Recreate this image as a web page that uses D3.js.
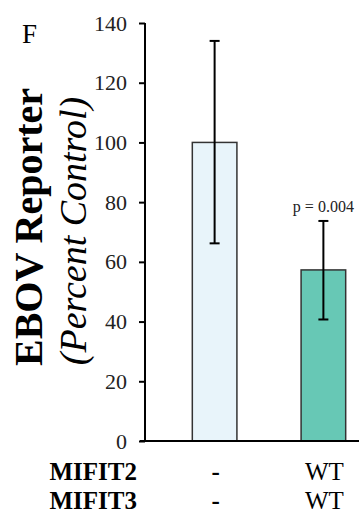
<!DOCTYPE html>
<html>
<head>
<meta charset="UTF-8">
<script src="https://d3js.org/d3.v7.min.js"></script>
<style>
  body { margin: 0; padding: 0; background: #fff; }
  svg { display: block; font-family: 'Liberation Serif', 'Times New Roman', serif; }
</style>
</head>
<body>
<svg width="359" height="517"></svg>
<script>
  // data
  const groups = ["ctrl", "wt"];
  const means = [100, 57.3];
  const errLow = [66.2, 40.7];
  const errHigh = [134, 73.7];
  const fills = ["#e8f4fa", "#67c8b5"];
  const mifit2 = ["-", "WT"];
  const mifit3 = ["-", "WT"];
  const yTicks = [0, 20, 40, 60, 80, 100, 120, 140];

  const svg = d3.select("svg");

  const x = d3.scaleBand()
    .domain(groups)
    .range([145, 393])
    .paddingInner(0.59)
    .paddingOuter(0.435);

  const y = d3.scaleLinear().domain([0, 140]).range([441, 23]);

  // y axis
  const yAxis = svg.append("g")
    .attr("transform", "translate(145,0)")
    .call(d3.axisLeft(y).tickValues(yTicks).tickSize(6).tickPadding(12));
  yAxis.select(".domain").attr("stroke", "#000").attr("stroke-width", 2)
    .attr("d", "M0," + y(140) + "V" + y(0));
  yAxis.selectAll(".tick line").attr("stroke", "#000").attr("stroke-width", 2);
  yAxis.selectAll(".tick text")
    .attr("fill", "#222")
    .style("font-size", "22px")
    .style("font-family", "'Liberation Serif', serif");

  // bars
  svg.selectAll("rect.bar")
    .data(groups)
    .enter()
    .append("rect")
    .attr("class", "bar")
    .attr("x", d => x(d))
    .attr("y", (d, i) => y(means[i]))
    .attr("width", x.bandwidth())
    .attr("height", (d, i) => y(0) - y(means[i]))
    .attr("fill", (d, i) => fills[i])
    .attr("stroke", "#333")
    .attr("stroke-width", 1.5);

  // x baseline
  svg.append("line")
    .attr("x1", 140).attr("x2", 359)
    .attr("y1", y(0)).attr("y2", y(0))
    .attr("stroke", "#000").attr("stroke-width", 2);

  // error bars
  const eb = svg.selectAll("g.err")
    .data(groups)
    .enter()
    .append("g")
    .attr("class", "err");
  eb.append("line")
    .attr("x1", d => x(d) + x.bandwidth() / 2)
    .attr("x2", d => x(d) + x.bandwidth() / 2)
    .attr("y1", (d, i) => y(errLow[i]))
    .attr("y2", (d, i) => y(errHigh[i]))
    .attr("stroke", "#000").attr("stroke-width", 2);
  [errLow, errHigh].forEach(arr => {
    eb.append("line")
      .attr("x1", d => x(d) + x.bandwidth() / 2 - 5)
      .attr("x2", d => x(d) + x.bandwidth() / 2 + 5)
      .attr("y1", (d, i) => y(arr[i]))
      .attr("y2", (d, i) => y(arr[i]))
      .attr("stroke", "#000").attr("stroke-width", 2);
  });

  // p value
  svg.append("text")
    .attr("x", x("wt") + x.bandwidth() / 2)
    .attr("y", y(errHigh[1]) - 9)
    .attr("text-anchor", "middle")
    .style("font-size", "16px")
    .attr("fill", "#222")
    .text("p = 0.004");

  // panel letter
  svg.append("text")
    .attr("x", 22).attr("y", 43)
    .style("font-size", "27px")
    .text("F");

  // y titles
  svg.append("text")
    .attr("transform", "translate(42,227) rotate(-90)")
    .attr("text-anchor", "middle")
    .style("font-size", "40px")
    .style("font-weight", "bold")
    .text("EBOV Reporter");
  svg.append("text")
    .attr("transform", "translate(86,231) rotate(-90)")
    .attr("text-anchor", "middle")
    .style("font-size", "38px")
    .style("font-style", "italic")
    .text("(Percent Control)");

  // condition table
  const rows = [["MIFIT2", mifit2, 480], ["MIFIT3", mifit3, 509]];
  rows.forEach(([name, vals, yy]) => {
    svg.append("text")
      .attr("x", 137).attr("y", yy)
      .attr("text-anchor", "end")
      .style("font-size", "25px")
      .style("font-weight", "bold")
      .text(name);
    svg.selectAll(null)
      .data(groups)
      .enter()
      .append("text")
      .attr("x", d => x(d) + x.bandwidth() / 2 + 1)
      .attr("y", yy)
      .attr("text-anchor", "middle")
      .style("font-size", "25px")
      .style("font-weight", (d, i) => vals[i] === "-" ? "bold" : "normal")
      .text((d, i) => vals[i]);
  });
</script>
</body>
</html>
